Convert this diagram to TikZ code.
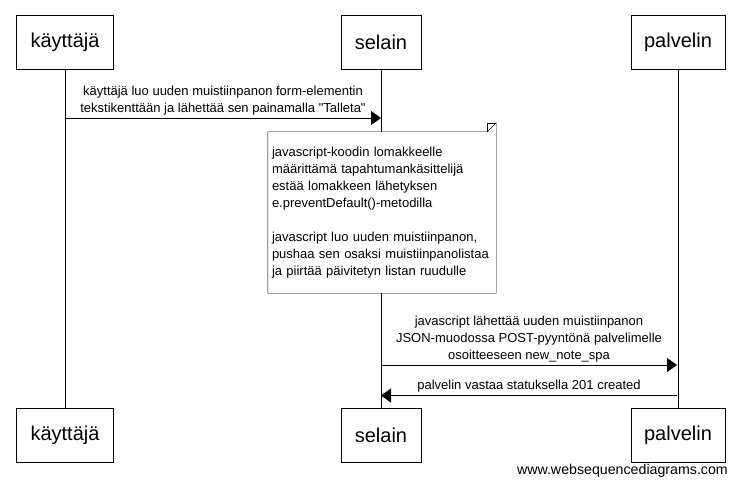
\documentclass[tikz,border=0pt]{standalone}
\usepackage{fontspec}
\setmainfont{Liberation Sans}
\usetikzlibrary{positioning, arrows.meta}

\begin{document}
\begin{tikzpicture}[x=1pt, y=-1pt]
        % Define styles for shapes
        \tikzstyle{actor} = [draw, minimum width=97pt, minimum height=54pt, inner sep=0pt, font=\fontsize{20}{24}\selectfont]
        \tikzstyle{msg} = [-{Triangle[length=10pt, width=14pt]}]
        \tikzstyle{lbl} = [font=\fontsize{13}{17}\selectfont, align=center, inner sep=2pt]
        \useasboundingbox (0,0) rectangle (738,486);
        % Draw participants
        \node[actor] (kayttaja) at (65, 42) {käyttäjä};
        \node[actor, minimum width=80pt] (selain) at (381, 42) {selain};
        \node[actor, minimum width=94pt] (palvelin) at (678, 42) {palvelin};
        \node[actor] (kayttajaB) at (65, 435.5) {käyttäjä};
        \node[actor, minimum width=80pt] (selainB) at (381, 435.5) {selain};
        \node[actor, minimum width=94pt] (palvelinB) at (678, 435.5) {palvelin};
        % lifelines
        \draw (kayttaja) -- (kayttajaB);
        \draw (selain) -- (selainB);
        \draw (palvelin) -- (palvelinB);
        % message points on the lifelines
        \coordinate (k1) at (65, 118);
        \coordinate (s1) at (381, 118);
        \coordinate (s2) at (381, 365);
        \coordinate (p2) at (677, 365);
        \coordinate (p3) at (677, 395.5);
        \coordinate (s3) at (381, 395.5);
        % Draw arrows
        \draw[msg] (k1) -- (s1) node[lbl, midway, above=1pt] {käyttäjä luo uuden muistiinpanon form-elementin\\tekstikenttään ja lähettää sen painamalla \textquotedbl Talleta\textquotedbl};
        \draw[msg] (s2) -- (p2) node[lbl, midway, above=1pt] {javascript lähettää uuden muistiinpanon\\JSON-muodossa POST-pyyntönä palvelimelle\\osoitteeseen new\_note\_spa};
        \draw[msg] (p3) -- (s3) node[lbl, midway, above=1pt] {palvelin vastaa statuksella 201 created};
        % note on the selain lifeline
        \node[lbl, fill=white, minimum width=228pt, minimum height=161pt, align=left, text width=220pt, inner sep=4pt] (note) at (382, 212.5) {javascript-koodin lomakkeelle\\määrittämä tapahtumankäsittelijä\\estää lomakkeen lähetyksen\\e.preventDefault()-metodilla\\[17pt]javascript luo uuden muistiinpanon,\\pushaa sen osaksi muistiinpanolistaa\\ja piirtää päivitetyn listan ruudulle};
        \draw (note.north west) -- ([xshift=-9pt]note.north east) -- ([yshift=9pt]note.north east) -- (note.south east) -- (note.south west) -- cycle;
        \draw ([xshift=-9pt]note.north east) -- ([xshift=-9pt, yshift=9pt]note.north east) -- ([yshift=9pt]note.north east);
        % footer
        \node[lbl, font=\fontsize{14.2}{17}\selectfont, anchor=east] (footer) at (730, 471) {www.websequencediagrams.com};
    \end{tikzpicture}
\end{document}
